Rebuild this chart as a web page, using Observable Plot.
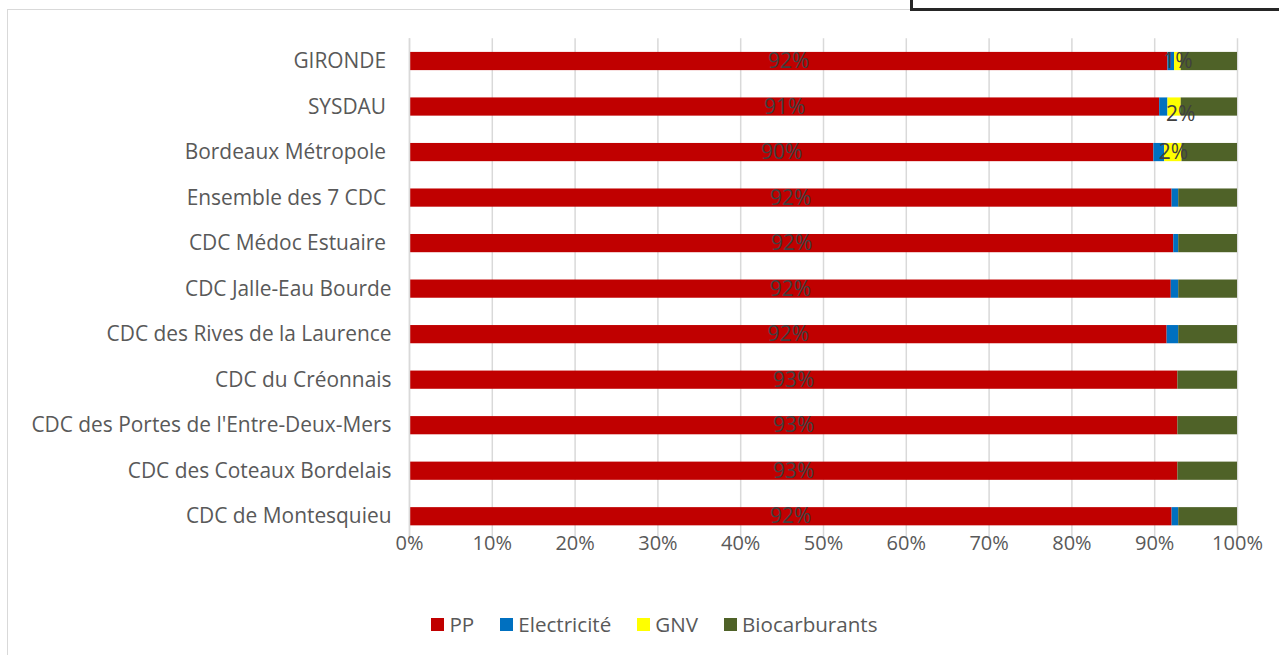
<!DOCTYPE html>
<html>
<head>
<meta charset="utf-8">
<script src="https://cdn.jsdelivr.net/npm/d3@7"></script>
<script src="https://cdn.jsdelivr.net/npm/@observablehq/plot@0.6"></script>
<style>
  html, body { margin: 0; padding: 0; background: #fff; overflow: hidden; width: 1279px; height: 655px; }
  body { font-family: "Open Sans", sans-serif; position: relative; }
  #frame { position: absolute; left: 7px; top: 9px; width: 1310px; height: 700px; border: 1.5px solid #d9d9d9; box-sizing: border-box; }
  #box { position: absolute; left: 910px; top: -10px; width: 420px; height: 21px; border: 3px solid #262626; background: #fff; box-sizing: border-box; }
  #chart { position: absolute; left: 0; top: 0; }
  #legend { position: absolute; left: 0; top: 610px; width: 1309px; display: flex; justify-content: center; align-items: center; font-size: 20.6px; color: #595959; }
  .item { display: flex; align-items: center; margin: 0 13px; }
  .sw { width: 13px; height: 13px; margin-right: 5px; }
</style>
</head>
<body>
<div id="frame"></div>
<div id="box"></div>
<div id="chart"></div>
<div id="legend"></div>
<script>
const categories = [
  "GIRONDE ", "SYSDAU ", "Bordeaux Métropole ", "Ensemble des 7 CDC ", "CDC Médoc Estuaire ",
  "CDC Jalle-Eau Bourde", "CDC des Rives de la Laurence", "CDC du Créonnais",
  "CDC des Portes de l'Entre-Deux-Mers", "CDC des Coteaux Bordelais", "CDC de Montesquieu"
];
const series = ["PP", "Electricité", "GNV", "Biocarburants"];
const colors = ["#C00000", "#0070C0", "#FFFF00", "#4F6228"];
// values in %
const pp    = [91.6, 90.6, 89.9, 92.1, 92.3, 92.0, 91.5, 92.8, 92.8, 92.8, 92.1];
const elec  = [0.8, 1.0, 1.3, 0.8, 0.6, 0.9, 1.4, 0.0, 0.0, 0.0, 0.8];
const gnv   = [0.8, 1.6, 2.1, 0, 0, 0, 0, 0, 0, 0, 0];
const bio   = [6.8, 6.8, 6.7, 7.1, 7.1, 7.1, 7.1, 7.2, 7.2, 7.2, 7.1];
const xTicks = [0, 0.1, 0.2, 0.3, 0.4, 0.5, 0.6, 0.7, 0.8, 0.9, 1.0];

const valueSets = [pp, elec, gnv, bio];
const rows = categories.flatMap((c, i) => series.map((s, j) => ({category: c, series: s, value: valueSets[j][i] / 100})));
const pct = d3.format(".0%");

const H = 600, plotBottom = 539;
const common = {x: "value", y: "category", z: "series", order: series};

const chart = Plot.plot({
  width: 1279,
  height: H,
  marginLeft: 409,
  marginRight: 42,
  marginTop: 38.25,
  marginBottom: H - plotBottom,
  style: {fontFamily: "'Open Sans', sans-serif", fontSize: "20px", color: "#595959", background: "transparent"},
  x: {domain: [0, 1], label: null},
  y: {domain: categories, paddingInner: 0.6, paddingOuter: 0.3, round: false, label: null},
  color: {domain: series, range: colors},
  marks: [
    Plot.gridX(xTicks, {stroke: "#d9d9d9", strokeOpacity: 1, strokeWidth: 1.5}),
    Plot.barX(rows, {...common, fill: "series"}),
    Plot.ruleX([0], {stroke: "#d9d9d9", strokeWidth: 1.5}),
    Plot.axisX({ticks: xTicks, tickFormat: pct, tickSize: 0, tickPadding: -4, fontSize: 20, fill: "#595959", label: null}),
    Plot.axisY({tickSize: 0, tickPadding: 18, fontSize: 20.9, fill: "#595959", label: null,
      tickFormat: d => d.replace(/ $/, "\u00A0")}),
    Plot.text(rows, Plot.stackX({...common,
      text: d => d.series === "PP" ? pct(d.value) : null,
      fill: "#404040", fontSize: 21})),
    Plot.text(rows, Plot.stackX({...common,
      text: d => (d.series === "GNV" && d.value > 0 && d.category !== "SYSDAU ") ? pct(d.value) : null,
      fill: "#404040", fontSize: 21})),
    Plot.text(rows, Plot.stackX({...common,
      text: d => (d.series === "GNV" && d.value > 0 && d.category === "SYSDAU ") ? pct(d.value) : null,
      fill: "#404040", fontSize: 21, dx: 6, dy: 7}))
  ]
});
document.getElementById("chart").appendChild(chart);

const legend = document.getElementById("legend");
series.forEach((s, i) => {
  const it = document.createElement("div");
  it.className = "item";
  const sw = document.createElement("div");
  sw.className = "sw";
  sw.style.background = colors[i];
  const t = document.createElement("span");
  t.textContent = s;
  it.appendChild(sw);
  it.appendChild(t);
  legend.appendChild(it);
});
</script>
</body>
</html>
